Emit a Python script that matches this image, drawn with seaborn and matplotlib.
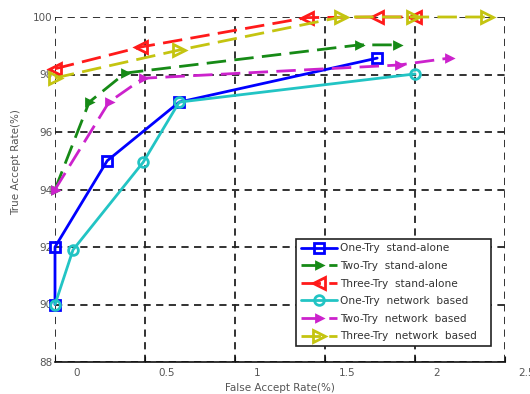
import matplotlib
matplotlib.use("Agg")
import matplotlib.pyplot as plt
import matplotlib.transforms as mtransforms
import seaborn as sns
import pandas as pd

sns.set_style("white")
plt.rcParams['font.family'] = ['DejaVu Sans']

# ---- data (FAR %, TAR %) ----
one_sa_x = [0.0, 0.0, 0.29, 0.69, 1.79]
one_sa_y = [90.0, 92.0, 95.0, 97.04, 98.57]
two_sa_x = [0.0, 0.19, 0.39, 1.69, 1.90]
two_sa_y = [94.0, 97.04, 98.05, 99.03, 99.03]
three_sa_x = [0.0, 0.48, 1.40, 1.79, 2.0]
three_sa_y = [98.2, 98.96, 99.98, 100.0, 100.0]
one_nb_x = [0.0, 0.10, 0.49, 0.69, 2.0]
one_nb_y = [90.0, 91.9, 94.95, 97.04, 98.02]
two_nb_x = [0.0, 0.30, 0.49, 1.91, 2.19]
two_nb_y = [94.0, 97.04, 97.87, 98.33, 98.57]
three_nb_x = [0.0, 0.69, 1.59, 1.99, 2.40]
three_nb_y = [97.88, 98.85, 100.0, 100.0, 100.0]

labels = ["One-Try  stand-alone", "Two-Try  stand-alone", "Three-Try  stand-alone",
          "One-Try  network  based", "Two-Try  network  based", "Three-Try  network  based"]
x_ticks = [0, 0.5, 1, 1.5, 2, 2.5]
x_tick_labels = ["0", "0.5", "1", "1.5", "2", "2.5"]
y_ticks = [88, 90, 92, 94, 96, 98, 100]

series = [
    (one_sa_x, one_sa_y, labels[0], "#0000ff", "s", "-", "none", 7),
    (two_sa_x, two_sa_y, labels[1], "#168a16", ">", (0, (7, 3)), "#168a16", 5),
    (three_sa_x, three_sa_y, labels[2], "#ff1a1a", "<", (0, (7, 3)), "none", 8),
    (one_nb_x, one_nb_y, labels[3], "#22c4c4", "o", "-", "none", 7),
    (two_nb_x, two_nb_y, labels[4], "#cc22cc", ">", (0, (7, 3)), "#cc22cc", 5),
    (three_nb_x, three_nb_y, labels[5], "#c4c410", ">", (0, (7, 3)), "none", 8),
]

fig = plt.figure(figsize=(5.30, 3.94), dpi=100)
ax = fig.add_axes([55/530, 1-362/394, 450/530, 345/394])

for xs, ys, lab, col, mk, ls, mfc, ms in series:
    df = pd.DataFrame({"x": xs, "y": ys})
    sns.lineplot(data=df, x="x", y="y", ax=ax, sort=False, estimator=None,
                 color=col, marker=mk, linestyle=ls, linewidth=2.0,
                 markersize=ms, markerfacecolor=mfc, markeredgecolor=col,
                 markeredgewidth=2.0, label=lab, clip_on=False, zorder=3)

ax.set_xlim(0, 2.5)
ax.set_ylim(88, 100)
ax.set_xticks(x_ticks)
ax.set_xticklabels(x_tick_labels)
ax.set_yticks(y_ticks)
ax.grid(True, color="#222222", linestyle=(0, (4, 3)), linewidth=1.3)
for s in ["left", "top", "right"]:
    ax.spines[s].set_visible(False)
ax.spines["bottom"].set_color("#111111")
ax.spines["bottom"].set_linewidth(1.2)
ax.tick_params(axis="x", direction="in", length=4, color="#111111",
               labelsize=7.5, labelcolor="#555555", pad=4, bottom=True)
ax.tick_params(axis="y", direction="in", length=0, labelsize=7.5,
               labelcolor="#555555", pad=2)
offset = mtransforms.ScaledTranslation(22/100, 0, fig.dpi_scale_trans)
for lbl in ax.get_xticklabels():
    lbl.set_transform(lbl.get_transform() + offset)

ax.set_xlabel("False Accept Rate(%)", fontsize=7.5, color="#555555", labelpad=4)
ax.set_ylabel("True Accept Rate(%)", fontsize=7.5, color="#555555")
ax.yaxis.set_label_coords(-0.075, 0.58)

leg = ax.legend(loc="lower left", bbox_to_anchor=(0.536, 0.046, 0.433, 0.33),
                mode="expand", borderaxespad=0, fontsize=7.6, frameon=True,
                fancybox=False, edgecolor="#222222", framealpha=1,
                handlelength=3.4, labelspacing=0.72, borderpad=0.45,
                handletextpad=0.3)
leg.get_frame().set_linewidth(1.2)
for t in leg.get_texts():
    t.set_color("#333333")

fig.savefig("out.png", dpi=100)
